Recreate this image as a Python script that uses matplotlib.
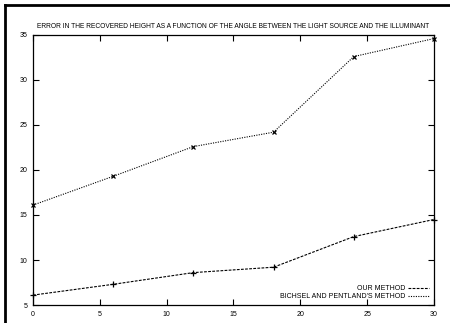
import matplotlib
matplotlib.use("Agg")
import matplotlib.pyplot as plt
from matplotlib.lines import Line2D

plt.rcParams["font.family"] = ["Liberation Sans", "DejaVu Sans"]

angles = [0, 6, 12, 18, 24, 30]
our_method = [6.1, 7.3, 8.6, 9.2, 12.6, 14.5]
bichsel_pentland = [16.1, 19.3, 22.6, 24.2, 32.6, 34.6]
title = "ERROR IN THE RECOVERED HEIGHT AS A FUNCTION OF THE ANGLE BETWEEN THE LIGHT SOURCE AND THE ILLUMINANT"

fig = plt.figure(figsize=(4.5, 3.23), dpi=100)
ax = fig.add_axes([0.0733, 0.0557, 0.891, 0.836])

ax.plot(angles, our_method, color="black", linestyle=(0, (2.5, 1.2)), linewidth=0.8,
        marker="+", markersize=4, markeredgewidth=0.9, clip_on=False)
ax.plot(angles, bichsel_pentland, color="black", linestyle=(0, (1, 1.2)), linewidth=0.8,
        marker="x", markersize=3.5, markeredgewidth=0.9, clip_on=False)

ax.set_xlim(0, 30)
ax.set_ylim(5, 35)
ax.set_xticks(range(0, 31, 5))
ax.set_yticks(range(5, 36, 5))
ax.tick_params(direction="in", length=4, width=0.8, labelsize=5, pad=4,
               top=True, right=True)
for s in ax.spines.values():
    s.set_linewidth(0.9)

ax.set_title(title, fontsize=4.8, pad=5)

handles = [
    Line2D([], [], color="black", linestyle=(0, (2.5, 1.2)), linewidth=0.8),
    Line2D([], [], color="black", linestyle=(0, (1, 1.2)), linewidth=0.8),
]
ax.legend(handles, ["OUR METHOD", "BICHSEL AND PENTLAND'S METHOD"],
          loc="lower right", frameon=False, markerfirst=False, fontsize=5,
          handlelength=3, handletextpad=0.4, labelspacing=0.15,
          borderaxespad=0.3)

# thick frame lines at left and top edges of the image
fig.add_artist(Line2D([0.012, 0.012], [0, 0.983], color="black", linewidth=2,
                      transform=fig.transFigure))
fig.add_artist(Line2D([0.012, 1], [0.983, 0.983], color="black", linewidth=2,
                      transform=fig.transFigure))

fig.savefig("out.png", dpi=100)
